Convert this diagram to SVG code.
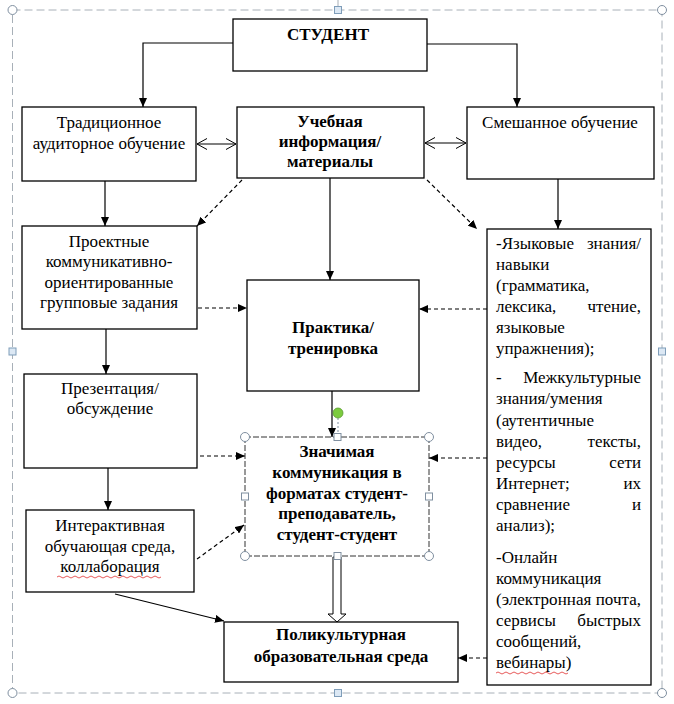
<svg xmlns="http://www.w3.org/2000/svg" width="674" height="704" viewBox="0 0 674 704">
<defs>
<style>
.box{fill:#fff;stroke:#000;stroke-width:1.3}
.t{font-family:"Liberation Serif","Times New Roman",serif;font-size:17px;fill:#000}
.c{text-anchor:middle}
.b{font-weight:bold}
.e{text-anchor:end}
.ln{fill:none;stroke:#000;stroke-width:1.2}
.d{stroke-dasharray:4,3}
.h{fill:#fff;stroke:#7f8fa0;stroke-width:1}
.hs{fill:#dce8f4;stroke:#7f9db9;stroke-width:1}
</style>
<marker id="a" markerWidth="9" markerHeight="8" refX="9" refY="4" orient="auto" markerUnits="userSpaceOnUse">
<path d="M0,0 L9,4 L0,8 z" fill="#000"/>
</marker>
<marker id="o" markerWidth="11" markerHeight="12" refX="10" refY="6" orient="auto-start-reverse" markerUnits="userSpaceOnUse">
<path d="M0,0.5 L10,6 L0,11.5" fill="none" stroke="#000" stroke-width="1"/>
</marker>
</defs>
<rect width="674" height="704" fill="#fff"/>

<!-- selection frame -->
<g id="frame">
<rect x="12.5" y="10" width="649.5" height="683" fill="none" stroke="#a8b0b8" stroke-width="1" stroke-dasharray="8,4"/>
<line x1="338" y1="0" x2="338" y2="6" stroke="#a8b0b8" stroke-width="1"/>
<circle cx="12.5" cy="10" r="4.5" class="h"/>
<circle cx="662" cy="10" r="4.5" class="h"/>
<circle cx="662" cy="693" r="4.5" class="h"/>
<circle cx="12.5" cy="693" r="4.5" class="h"/>
<rect x="334.5" y="6.5" width="7" height="7" class="hs"/>
<rect x="334.5" y="689.5" width="7" height="7" class="hs"/>
<rect x="9" y="348" width="7" height="7" class="hs"/>
<rect x="658.5" y="348" width="7" height="7" class="hs"/>
</g>

<g id="connectors">
<polyline class="ln" points="233,43 143,43 143,107" marker-end="url(#a)"/>
<polyline class="ln" points="427,44 517,44 517,107" marker-end="url(#a)"/>
<line class="ln" x1="197" y1="144" x2="236" y2="144" stroke-width="1" marker-start="url(#o)" marker-end="url(#o)"/>
<line class="ln" x1="425" y1="143" x2="466" y2="143" stroke-width="1" marker-start="url(#o)" marker-end="url(#o)"/>
<line class="ln" x1="105" y1="181" x2="105" y2="226" marker-end="url(#a)"/>
<line class="ln d" x1="242" y1="180" x2="197" y2="226" marker-end="url(#a)"/>
<line class="ln d" x1="427" y1="180" x2="477" y2="229" marker-end="url(#a)"/>
<line class="ln" x1="558" y1="179" x2="558" y2="229" marker-end="url(#a)"/>
<line class="ln" x1="330" y1="178" x2="330" y2="280" marker-end="url(#a)"/>
<line class="ln d" x1="198" y1="308" x2="247" y2="308" marker-end="url(#a)"/>
<line class="ln d" x1="487" y1="309" x2="419" y2="309" marker-end="url(#a)"/>
<line class="ln" x1="106" y1="329" x2="106" y2="374" marker-end="url(#a)"/>
<line class="ln d" x1="200" y1="456" x2="245" y2="456" marker-end="url(#a)"/>
<line class="ln" x1="332" y1="391" x2="332" y2="437" marker-end="url(#a)"/>
<line class="ln d" x1="487" y1="458" x2="429" y2="458" marker-end="url(#a)"/>
<line class="ln" x1="108" y1="468" x2="108" y2="510" marker-end="url(#a)"/>
<line class="ln d" x1="197" y1="559" x2="244" y2="525" marker-end="url(#a)"/>
<line class="ln" x1="115" y1="594" x2="224" y2="621" marker-end="url(#a)"/>
<polygon points="333,557 341,557 341,614 346,614 337,622 328,614 333,614" fill="#fff" stroke="#000" stroke-width="1"/>
<line class="ln d" x1="487" y1="658" x2="458" y2="658" marker-end="url(#a)"/>
</g>

<g id="student">
<rect class="box" x="233" y="19" width="194" height="52"/>
<text class="t b c" x="328" y="40">СТУДЕНТ</text>
</g>

<g id="traditional">
<rect class="box" x="22" y="107" width="174" height="74"/>
<text class="t c" x="109" y="128">Традиционное</text>
<text class="t c" x="109" y="149">аудиторное обучение</text>
</g>

<g id="materials">
<rect class="box" x="237" y="107" width="187" height="71"/>
<text class="t b c" x="330" y="127">Учебная</text>
<text class="t b c" x="330" y="147">информация/</text>
<text class="t b c" x="330" y="167">материалы</text>
</g>

<g id="blended">
<rect class="box" x="467" y="107" width="187" height="72"/>
<text class="t c" x="560" y="128">Смешанное обучение</text>
</g>

<g id="project">
<rect class="box" x="22" y="226" width="175" height="103"/>
<text class="t c" x="109" y="247">Проектные</text>
<text class="t c" x="109" y="267">коммуникативно-</text>
<text class="t c" x="109" y="288">ориентированные</text>
<text class="t c" x="109" y="308">групповые задания</text>
</g>

<g id="practice">
<rect class="box" x="247" y="280" width="172" height="111"/>
<text class="t b c" x="333" y="333">Практика/</text>
<text class="t b c" x="333" y="354">тренировка</text>
</g>

<g id="presentation">
<rect class="box" x="24" y="374" width="173" height="94"/>
<text class="t c" x="110" y="394">Презентация/</text>
<text class="t c" x="110" y="414">обсуждение</text>
</g>

<g id="interactive">
<rect class="box" x="26" y="510" width="168" height="82"/>
<text class="t c" x="110" y="531">Интерактивная</text>
<text class="t c" x="110" y="552">обучающая среда,</text>
<text class="t c" x="110" y="572">коллаборация</text>
<path d="M57,577 q2,-2 4,0 t4,0 t4,0 t4,0 t4,0 t4,0 t4,0 t4,0 t4,0 t4,0 t4,0 t4,0 t4,0 t4,0 t4,0 t4,0 t4,0 t4,0 t4,0 t4,0 t4,0 t4,0 t4,0 t4,0 t4,0 t4,0" fill="none" stroke="#e03030" stroke-width="0.8"/>
</g>

<g id="communication">
<rect x="245" y="437" width="184" height="119" fill="#fff" stroke="#333" stroke-width="1" stroke-dasharray="6,2"/>
<text class="t b c" x="337" y="457">Значимая</text>
<text class="t b c" x="337" y="478">коммуникация в</text>
<text class="t b c" x="337" y="499">форматах студент-</text>
<text class="t b c" x="337" y="519">преподаватель,</text>
<text class="t b c" x="337" y="540">студент-студент</text>
<line x1="338" y1="418" x2="338" y2="433" stroke="#7f8fa0" stroke-width="1" stroke-dasharray="2,2"/>
<circle cx="338" cy="413" r="5" fill="#7ccb3f" stroke="#5a9a30" stroke-width="0.8"/>
<circle cx="245" cy="437" r="4.5" class="h"/>
<circle cx="429" cy="437" r="4.5" class="h"/>
<circle cx="245" cy="556" r="4.5" class="h"/>
<circle cx="429" cy="556" r="4.5" class="h"/>
<rect x="334" y="433.5" width="7" height="7" class="h"/>
<rect x="334" y="552.5" width="7" height="7" class="h"/>
<rect x="241.5" y="493" width="7" height="7" class="h"/>
<rect x="425.5" y="493" width="7" height="7" class="h"/>
</g>

<g id="multicultural">
<rect class="box" x="224" y="622" width="234" height="60"/>
<text class="t b c" x="341" y="640">Поликультурная</text>
<text class="t b c" x="341" y="662">образовательная среда</text>
</g>

<g id="resources">
<rect class="box" x="487" y="229" width="164" height="456"/>
<text class="t" x="496" y="249">-Языковые</text>
<text class="t e" x="641" y="249">знания/</text>
<text class="t" x="496" y="270">навыки</text>
<text class="t" x="496" y="291">(грамматика,</text>
<text class="t" x="496" y="312">лексика,</text>
<text class="t e" x="641" y="312">чтение,</text>
<text class="t" x="496" y="333">языковые</text>
<text class="t" x="496" y="354">упражнения);</text>
<text class="t" x="496" y="383">-</text>
<text class="t e" x="641" y="383">Межкультурные</text>
<text class="t" x="496" y="404">знания/умения</text>
<text class="t" x="496" y="426">(аутентичные</text>
<text class="t" x="496" y="447">видео,</text>
<text class="t e" x="641" y="447">тексты,</text>
<text class="t" x="496" y="468">ресурсы</text>
<text class="t e" x="641" y="468">сети</text>
<text class="t" x="496" y="489">Интернет;</text>
<text class="t e" x="641" y="489">их</text>
<text class="t" x="496" y="510">сравнение</text>
<text class="t e" x="641" y="510">и</text>
<text class="t" x="496" y="531">анализ);</text>
<text class="t" x="496" y="563">-Онлайн</text>
<text class="t" x="496" y="584">коммуникация</text>
<text class="t" x="496" y="605" textLength="145" lengthAdjust="spacing">(электронная почта,</text>
<text class="t" x="496" y="626">сервисы</text>
<text class="t e" x="641" y="626">быстрых</text>
<text class="t" x="496" y="647">сообщений,</text>
<text class="t" x="496" y="668">вебинары)</text>
<path d="M496,673 q2,-2 4,0 t4,0 t4,0 t4,0 t4,0 t4,0 t4,0 t4,0 t4,0 t4,0 t4,0 t4,0 t4,0 t4,0 t4,0 t4,0 t4,0 t4,0" fill="none" stroke="#e03030" stroke-width="0.8"/>
</g>
</svg>
